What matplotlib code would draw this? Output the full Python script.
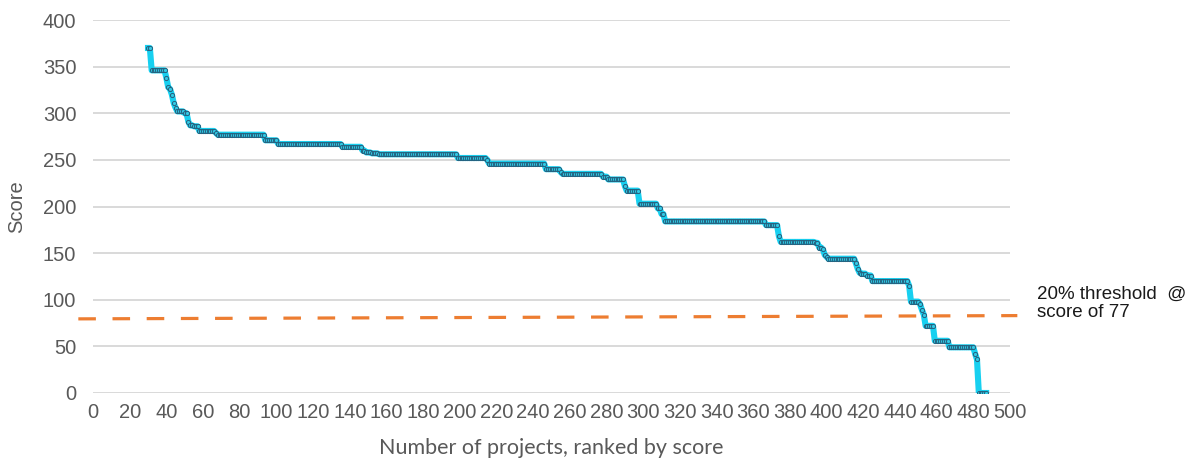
import numpy as np
import matplotlib.pyplot as plt

# project scores, stored as runs of equal score (score, number of projects)
first_rank = 30
run_scores = [370, 346, 338, 328, 326, 320, 311, 306, 302, 300, 291, 287, 286, 281, 279,
              277, 271, 267, 264, 260, 258, 257, 256, 252, 250, 246, 240, 237, 235, 232,
              229, 222, 217, 203, 198, 192, 184, 180, 168, 162, 161, 156, 154, 148, 146,
              144, 139, 133, 129, 128, 126, 120, 115, 98, 95, 89, 84, 72, 56, 49, 42, 36, 0]
run_counts = [2, 8, 1, 1, 1, 1, 1, 1, 4, 2, 1, 2, 3, 9, 1,
              26, 7, 35, 11, 2, 3, 4, 43, 16, 1, 31, 8, 1, 22, 3,
              9, 1, 7, 10, 2, 2, 55, 7, 1, 19, 2, 2, 1, 1, 1,
              15, 1, 1, 1, 3, 3, 20, 1, 5, 1, 1, 1, 5, 8, 14, 1, 1, 5]

# threshold line ends (x, score)
thresh_x = [-8, 504]
thresh_y = [79.5, 83]
thresh_text = "20% threshold  @\nscore of 77"

scores = np.repeat(run_scores, run_counts)
ranks = first_rank + np.arange(len(scores))

grey = '#595959'
plt.rcParams['font.family'] = ['Liberation Sans', 'DejaVu Sans']

fig = plt.figure(figsize=(11.93, 4.58), dpi=100)
ax = fig.add_axes([93/1193, 65/458, (1010-93)/1193, (393-20)/458])

ax.plot(ranks, scores, color='#17D0F0', lw=4.4, zorder=3,
        marker='o', ms=3.0, mfc='#30CBE6', mec='#24607E', mew=0.7)

ax.plot(thresh_x, thresh_y, color='#ED7D31', lw=2.3, dashes=(5.5, 5.2),
        clip_on=False, zorder=4)
ax.text(1037/1193, 1 - 303/458, thresh_text, transform=fig.transFigure,
        fontsize=13.5, color='#1a1a1a', va='center', ha='left', linespacing=1.1)

ax.set_xlim(0, 500)
ax.set_ylim(0, 400)
ax.set_xticks(np.arange(0, 501, 20))
ax.set_yticks(np.arange(0, 401, 50))
ax.grid(axis='y', color='#D9D9D9', lw=1.4)
ax.set_axisbelow(True)
for s in ax.spines.values():
    s.set_visible(False)
ax.tick_params(axis='both', length=0, labelsize=14.5, labelcolor=grey)
ax.tick_params(axis='y', pad=12)
ax.tick_params(axis='x', pad=7)

ax.set_ylabel('Score', fontsize=14.5, color=grey, labelpad=12)
ax.set_xlabel('Number of projects, ranked by score', fontsize=15.5, color=grey,
              labelpad=12, family=['Lato', 'DejaVu Sans'])

fig.savefig('out.png', dpi=100)
